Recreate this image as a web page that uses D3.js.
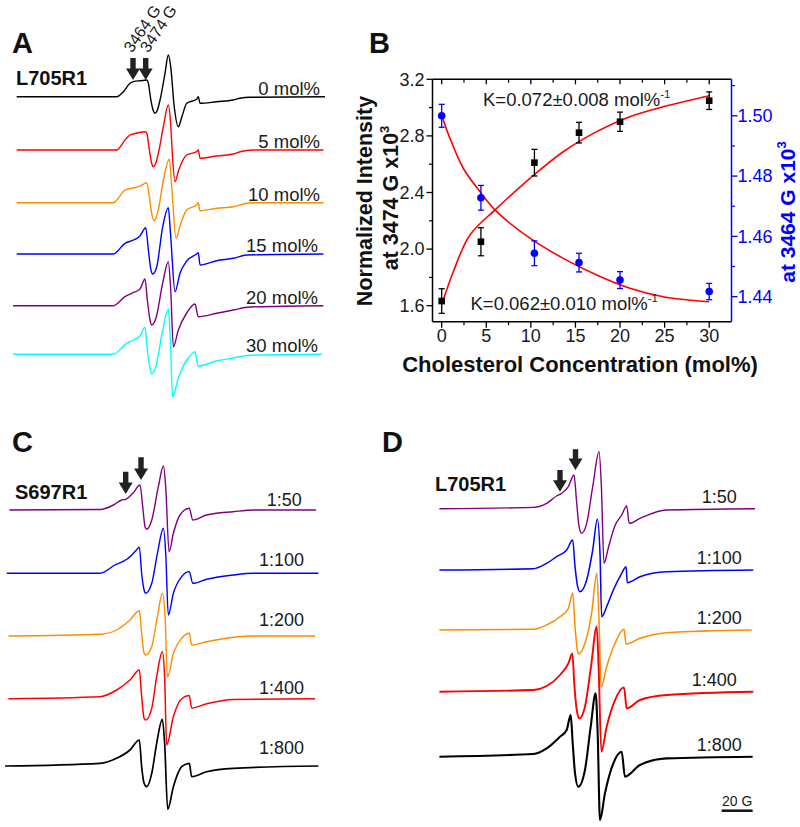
<!DOCTYPE html>
<html><head><meta charset="utf-8">
<script src="https://cdn.jsdelivr.net/npm/d3@7"></script>
<style>body{margin:0;background:#fff} svg{display:block} text{font-family:'Liberation Sans',Arial,Helvetica,sans-serif}</style>
</head><body>
<svg id="c" width="800" height="827"></svg>
<script>
// ================= DATA =================
// Panel B
const concB   = [0, 4.4, 10.4, 15.4, 20, 30];
const int3474 = [1.633, 2.052, 2.611, 2.823, 2.900, 3.049];
const err3474 = [0.087, 0.099, 0.094, 0.073, 0.068, 0.062];
const int3464 = [1.500, 1.4728, 1.4544, 1.4513, 1.4455, 1.4417];
const err3464 = [0.0038, 0.0041, 0.0041, 0.0031, 0.0028, 0.0027];
const fit3474 = [[0,1.605],[1.3,1.84],[3.17,2.10],[6.17,2.288],[9.9,2.50],[13.63,2.688],[17.38,2.83],[21.1,2.936],[24.84,3.006],[30,3.084]];
const fit3464 = [[0,1.5002],[0.93,1.4925],[2.42,1.4826],[4.3,1.4748],[6.17,1.4682],[9.9,1.4594],[13.63,1.4527],[17.38,1.4472],[21.1,1.4428],[24.84,1.44],[30,1.4383]];
const xTicksB = [0,5,10,15,20,25,30];
const xMinorB = [2.5,7.5,12.5,17.5,22.5,27.5];
const yLTicks = [1.6,2.0,2.4,2.8,3.2];
const yLMinor = [1.8,2.2,2.6,3.0];
const yRTicks = [1.44,1.46,1.48,1.50];
const yRMinor = [1.45,1.47,1.49,1.51];
const fitLabels = ["K=0.072\u00b10.008 mol%", "K=0.062\u00b10.010 mol%"];

// Panel A spectra: [field (G), intensity (a.u.)]
const labelsA = ['0 mol%','5 mol%','10 mol%','15 mol%','20 mol%','30 mol%'];
const offsetsA = [0, -5.33, -10.6, -15.73, -20.9, -25.76];
const specA0 = [[3372.4,0],[3451.1,0],[3456.4,0.5],[3461.6,1.34],[3464.3,1.5],[3470,1.6],[3474.8,1.67],[3476.1,1.34],[3477.9,-0.2],[3479.5,-1.2],[3481.3,-1.66],[3483,-1.4],[3485.3,-0.33],[3489.2,2.34],[3491.8,4.17],[3493.7,3.0],[3496.3,-0.8],[3499.7,-3.0],[3502.5,-2.0],[3506.3,-0.66],[3514.1,-0.26],[3515.4,0],[3516.8,-0.66],[3529.9,-0.5],[3543,-0.33],[3548.3,-0.16],[3556.1,-0.06],[3615.2,0]];
const specA5 = [[3372.4,0],[3451.1,0],[3457.7,1.0],[3461.6,1.5],[3464.3,1.6],[3473.4,1.83],[3474.8,1.7],[3476.9,0],[3478.7,-1.33],[3480,-1.67],[3482,-1.3],[3484.5,0],[3488,2.4],[3491.8,4.5],[3493.7,2.5],[3494.8,0],[3497.1,-3.17],[3500,-2.0],[3506.3,-0.5],[3514.1,-0.17],[3515.4,0],[3516.8,-0.83],[3529.9,-0.6],[3543,-0.4],[3548.3,-0.17],[3558.8,0],[3613.9,0]];
const specA10 = [[3372.4,0],[3448.5,0],[3457.7,1.27],[3463,1.44],[3469.5,1.65],[3474.8,2.0],[3476.9,0.6],[3478.7,-1.06],[3480.5,-1.8],[3483.9,-0.73],[3487.9,2.27],[3492.6,4.34],[3494.5,1.6],[3497.9,-3.56],[3501,-2.33],[3506.3,-0.73],[3514.1,-0.2],[3515.4,0],[3516.8,-0.8],[3529.9,-0.56],[3543,-0.4],[3556.1,0],[3613.9,0]];
const specA15 = [[3372.4,0],[3448.5,0],[3457.7,1.07],[3463,1.33],[3469.5,1.8],[3474,2.63],[3476.1,0.4],[3477.9,-1.43],[3479.5,-2.0],[3482.6,-1.33],[3487.4,2.73],[3491.8,4.63],[3493.7,1.73],[3497.1,-3.77],[3501,-1.93],[3506.3,-0.7],[3514.1,0],[3515.4,0.13],[3516.8,-1.1],[3529.9,-0.67],[3543,-0.43],[3553.5,-0.1],[3613.9,0]];
const specA20 = [[3369.5,0],[3448.5,0],[3457.7,0.9],[3463,1.24],[3469.5,1.67],[3473.4,2.67],[3475.3,0.57],[3477.4,-1.43],[3478.7,-1.93],[3482.1,-1.23],[3487.4,2.27],[3491.8,4.4],[3493.7,1.57],[3495.8,-4.1],[3499.7,-2.43],[3506.3,-0.73],[3512.8,0.17],[3515.4,-1.1],[3529.9,-0.76],[3543,-0.43],[3556.1,-0.13],[3613.9,0]];
const specA30 = [[3369.5,0],[3448.5,0],[3459,1.1],[3464.3,1.43],[3469.5,1.83],[3473.4,2.7],[3475.3,0.43],[3477.4,-1.37],[3478.7,-1.97],[3482.1,-1.17],[3487.4,2.43],[3491.8,4.53],[3493.4,1.43],[3495.2,-4.24],[3499.7,-2.37],[3506.3,-0.57],[3511.5,0.16],[3512.8,0.26],[3515.4,-1.17],[3529.9,-0.67],[3543,-0.37],[3556.1,-0.1],[3612.6,0]];

// Panel C spectra (S697R1)
const labelsC = ['1:50','1:100','1:200','1:400','1:800'];
const offsetsC = [0, -6.33, -12.6, -18.87, -25.6];
const specC50 = [[3388.1,0],[3447.3,0.05],[3456,0.5],[3461.4,1.0],[3464,1.07],[3469,1.73],[3473.3,2.5],[3475.1,0.33],[3476.6,-1.67],[3477.7,-1.93],[3481,-1.0],[3485.3,2.33],[3488.6,4.4],[3490.1,2.33],[3492.3,-4.17],[3495.1,-2.33],[3499.4,-0.5],[3505.5,0.17],[3507.7,-1.0],[3516.8,-0.5],[3534.2,-0.17],[3547.3,0],[3588.1,0]];
const specC100 = [[3386.4,0],[3447.3,0],[3457,0.83],[3464.7,1.4],[3470.1,2.17],[3472.9,2.6],[3474.4,0],[3476,-1.67],[3477,-2.0],[3481,-1.0],[3484.7,2.0],[3488.6,4.5],[3490.1,2.0],[3491.8,-4.17],[3495.1,-2.0],[3500.5,-0.33],[3505.5,0.17],[3507.7,-1.0],[3516.8,-0.6],[3534.2,-0.17],[3547.3,0],[3589.7,0]];
const specC200 = [[3387.5,0],[3447.3,0.17],[3458.1,0.6],[3466.8,1.6],[3472.9,2.53],[3474.4,0.27],[3476,-1.73],[3477,-1.9],[3481,-1.07],[3484.7,1.93],[3487.9,4.27],[3489.7,1.93],[3491.2,-4.13],[3495.1,-1.73],[3500.5,-0.23],[3505.5,0.27],[3507,-0.9],[3516.8,-0.57],[3534.2,-0.13],[3547.3,0],[3587.5,0]];
const specC400 = [[3387.5,0],[3447.3,0.2],[3458.1,0.87],[3466.8,1.87],[3472.9,2.87],[3474.4,0.23],[3476,-1.97],[3477,-2.13],[3481,-0.97],[3484.2,2.2],[3487.9,4.7],[3489.4,2.2],[3490.7,-4.63],[3495.1,-1.8],[3500.5,0],[3505.5,0.33],[3507,-0.93],[3516.8,-0.5],[3534.2,-0.07],[3587.5,0]];
const specC800 = [[3385.3,0],[3447.3,0.27],[3458.1,0.77],[3466.8,1.6],[3472.9,2.6],[3474.4,-0.07],[3476,-1.73],[3477.7,-2.07],[3481,-0.73],[3484.2,2.27],[3487.9,4.67],[3489.4,2.27],[3491.4,-4.33],[3495.1,-2.07],[3500.5,-0.07],[3505.5,0.27],[3507,-1.07],[3516.8,-0.57],[3534.2,-0.23],[3589.7,0]];

// Panel D spectra (L705R1)
const labelsD = ['1:50','1:100','1:200','1:400','1:800'];
const offsetsD = [0, -6.13, -12.13, -18.3, -24.8];
const specD50 = [[3386.2,0],[3446.8,0.13],[3455.4,0.53],[3461.8,1.27],[3465.1,1.53],[3469.4,2.2],[3473,3.37],[3474.8,0.53],[3476.3,-1.8],[3478,-2.47],[3481.2,-1.47],[3485.1,2.2],[3489.2,5.7],[3490.7,2.2],[3492.4,-5.47],[3495.2,-3.9],[3499.5,-1.67],[3503.8,-0.63],[3507,0.27],[3508.7,-1.47],[3515.6,-0.97],[3532.8,-0.13],[3589.8,0]];
const specD100 = [[3386.2,0],[3446.8,0.13],[3455.4,0.67],[3461.8,1.33],[3468.3,2.0],[3472.2,3.0],[3473.7,0.33],[3475.4,-1.67],[3476.9,-2.17],[3481.2,-1.0],[3485.1,2.0],[3488.1,5.07],[3489.8,1.67],[3490.9,-4.67],[3494.1,-3.67],[3498.4,-2.0],[3503.8,-0.33],[3506.6,0.33],[3507.4,-1.27],[3515.6,-0.67],[3532.8,-0.17],[3588.7,0]];
const specD200 = [[3386.2,0],[3446.8,0.07],[3455.4,0.5],[3464,1.33],[3469.4,2.17],[3472.2,3.67],[3473.7,0.33],[3475.2,-2.0],[3475.8,-2.4],[3480.1,-1.33],[3484.4,1.67],[3487.7,5.67],[3489.2,1.0],[3490.5,-5.73],[3494.1,-3.67],[3499.5,-1.33],[3505.3,0.07],[3506.6,-1.4],[3515.6,-0.83],[3532.8,-0.27],[3587.7,0]];
const specD400 = [[3386.2,0],[3446.8,0.17],[3455.4,0.57],[3464,1.67],[3469.4,2.83],[3472,3.83],[3473.2,0.83],[3474.8,-1.83],[3476.5,-2.67],[3480.1,-1.5],[3484,2.5],[3487.7,6.5],[3488.9,2.5],[3490.7,-6.0],[3494.1,-3.5],[3499.5,-0.83],[3505.3,0.43],[3507,-1.67],[3515.6,-0.83],[3532.8,-0.33],[3588.7,0]];
const specD800 = [[3386.2,0],[3446.8,0.27],[3455.4,0.83],[3464,2.0],[3468.3,2.67],[3470.9,4.17],[3472.2,1.33],[3473.7,-1.67],[3475.8,-3.0],[3480.1,-1.33],[3483.8,3.0],[3487,6.33],[3488.3,2.33],[3489.8,-6.33],[3493,-3.67],[3498.4,-0.67],[3503.8,0.5],[3505.9,-2.0],[3515.6,-0.83],[3532.8,-0.17],[3588.3,0]];

const arrowFields = [3464, 3474];
const arrowTexts = ['3464 G', '3474 G'];
const scaleBarG = 20;

// ================= DRAW =================
const svg = d3.select('#c');

function panelLabel(t, x, y){
  svg.append('text').attr('x',x).attr('y',y).attr('font-size',29).attr('font-weight','bold').attr('fill','#111').text(t);
}
panelLabel('A',12,53); panelLabel('B',369,53); panelLabel('C',12,452); panelLabel('D',382,452);

const lineGen = (xs, ys, off) => d3.line().x(d=>xs(d[0])).y(d=>ys(d[1]+off)).curve(d3.curveMonotoneX);

function drawArrow(g, x, tipY, topY){
  const hw = 7, sw = 2.7, hh = 11.5;
  const p = d3.path();
  p.moveTo(x-sw, topY); p.lineTo(x+sw, topY); p.lineTo(x+sw, tipY-hh); p.lineTo(x+hw, tipY-hh);
  p.lineTo(x, tipY); p.lineTo(x-hw, tipY-hh); p.lineTo(x-sw, tipY-hh); p.closePath();
  g.append('path').attr('d', p.toString()).attr('fill','#222');
}

function drawSpectra(specs, offs, colors, xs, ys, widths){
  const g = svg.append('g');
  specs.forEach((s,i)=>{
    g.append('path').datum(s).attr('d', lineGen(xs,ys,offs[i])).attr('fill','none')
      .attr('stroke', colors[i]).attr('stroke-width', widths[i]).attr('stroke-linejoin','round');
  });
  return g;
}

// ---- Panel A ----
const xA = d3.scaleLinear().domain([3464, 3474]).range([133, 145.7]);
const yA = d3.scaleLinear().domain([0, -1]).range([96.7, 106.7]);
const colorsA = ['#000000','#ff0000','#ff8c00','#0000ff','#800080','#00ffff'];
const gA = drawSpectra([specA0,specA5,specA10,specA15,specA20,specA30], offsetsA, colorsA, xA, yA, [1.4,1.4,1.4,1.4,1.4,1.4]);
labelsA.forEach((t,i)=>{
  gA.append('text').attr('x', i<3?320:318).attr('y', yA(offsetsA[i]) - 2).attr('text-anchor','end')
    .attr('font-size',18.5).attr('fill','#1a1a1a').text(t);
});
gA.append('text').attr('x',16).attr('y',85).attr('font-size',20).attr('font-weight','bold').attr('fill','#111').text('L705R1');
arrowFields.forEach(f=>drawArrow(gA, xA(f), 80, 58));
const rotDx = [-1, 2.5];
arrowTexts.forEach((t,i)=>{
  const x = xA(arrowFields[i]) + rotDx[i], y = 53.5;
  gA.append('text').attr('transform',`translate(${x},${y}) rotate(-56)`).attr('font-size',16).attr('fill','#1a1a1a').text(t);
});

// ---- Panel B ----
const gB = svg.append('g');
const xB = d3.scaleLinear().domain([-1.03, 32.5]).range([432.5, 731.5]);
const yL = d3.scaleLinear().domain([1.487, 3.2]).range([321.7, 79.3]);
const yR = d3.scaleLinear().domain([1.4317, 1.5121]).range([321.7, 79.3]);
const BL = 432.5, BR = 731.5, BT = 79.3, BB = 321.7;

gB.append('path').datum(fit3474).attr('d', d3.line().x(d=>xB(d[0])).y(d=>yL(d[1])).curve(d3.curveCatmullRom))
  .attr('fill','none').attr('stroke','#ff0000').attr('stroke-width',1.6);
gB.append('path').datum(fit3464).attr('d', d3.line().x(d=>xB(d[0])).y(d=>yR(d[1])).curve(d3.curveCatmullRom))
  .attr('fill','none').attr('stroke','#ff0000').attr('stroke-width',1.6);

function errBars(vals, errs, ys, col){
  vals.forEach((v,i)=>{
    const x = xB(concB[i]);
    gB.append('line').attr('x1',x).attr('x2',x).attr('y1',ys(v-errs[i])).attr('y2',ys(v+errs[i])).attr('stroke',col).attr('stroke-width',1.3);
    [v-errs[i], v+errs[i]].forEach(e=>gB.append('line').attr('x1',x-3).attr('x2',x+3).attr('y1',ys(e)).attr('y2',ys(e)).attr('stroke',col).attr('stroke-width',1.3));
  });
}
errBars(int3474, err3474, yL, '#000');
errBars(int3464, err3464, yR, '#0000ff');
int3474.forEach((v,i)=>gB.append('rect').attr('x',xB(concB[i])-3.3).attr('y',yL(v)-3.3).attr('width',6.6).attr('height',6.6).attr('fill','#000'));
int3464.forEach((v,i)=>gB.append('circle').attr('cx',xB(concB[i])).attr('cy',yR(v)).attr('r',3.8).attr('fill','#0000ff'));

gB.append('line').attr('x1',BL).attr('x2',BR).attr('y1',BT).attr('y2',BT).attr('stroke','#000').attr('stroke-width',1.5);
gB.append('line').attr('x1',BL).attr('x2',BR).attr('y1',BB).attr('y2',BB).attr('stroke','#000').attr('stroke-width',1.5);
gB.append('line').attr('x1',BL).attr('x2',BL).attr('y1',BT).attr('y2',BB).attr('stroke','#000').attr('stroke-width',1.5);
gB.append('line').attr('x1',BR).attr('x2',BR).attr('y1',BT).attr('y2',BB).attr('stroke','#0000ff').attr('stroke-width',1.5);

xTicksB.forEach(t=>{
  const x = xB(t);
  gB.append('line').attr('x1',x).attr('x2',x).attr('y1',BB).attr('y2',BB+6).attr('stroke','#000').attr('stroke-width',1.3);
  gB.append('line').attr('x1',x).attr('x2',x).attr('y1',BT).attr('y2',BT+5).attr('stroke','#000').attr('stroke-width',1.3);
  gB.append('text').attr('x',x).attr('y',341.7).attr('text-anchor','middle').attr('font-size',18).attr('fill','#1a1a1a').text(t);
});
xMinorB.forEach(t=>{
  const x = xB(t);
  gB.append('line').attr('x1',x).attr('x2',x).attr('y1',BB).attr('y2',BB+3.5).attr('stroke','#000').attr('stroke-width',1.2);
  gB.append('line').attr('x1',x).attr('x2',x).attr('y1',BT).attr('y2',BT+3.5).attr('stroke','#000').attr('stroke-width',1.2);
});
yLTicks.forEach(t=>{
  const y = yL(t);
  gB.append('line').attr('x1',BL-6).attr('x2',BL).attr('y1',y).attr('y2',y).attr('stroke','#000').attr('stroke-width',1.3);
  gB.append('text').attr('x',BL-8).attr('y',y).attr('dy','0.35em').attr('text-anchor','end').attr('font-size',18).attr('fill','#1a1a1a').text(t.toFixed(1));
});
yLMinor.forEach(t=>{
  const y = yL(t);
  gB.append('line').attr('x1',BL-3.5).attr('x2',BL).attr('y1',y).attr('y2',y).attr('stroke','#000').attr('stroke-width',1.2);
});
yRTicks.forEach(t=>{
  const y = yR(t);
  gB.append('line').attr('x1',BR).attr('x2',BR+6).attr('y1',y).attr('y2',y).attr('stroke','#0000ff').attr('stroke-width',1.3);
  gB.append('text').attr('x',BR+6).attr('y',y).attr('dy','0.35em').attr('font-size',18).attr('fill','#0000ff').text(t.toFixed(2));
});
yRMinor.forEach(t=>{
  const y = yR(t);
  gB.append('line').attr('x1',BR).attr('x2',BR+3.5).attr('y1',y).attr('y2',y).attr('stroke','#0000ff').attr('stroke-width',1.2);
});

function supText(g, x, y, main, sup, size, col){
  const t = g.append('text').attr('x',x).attr('y',y).attr('font-size',size).attr('fill',col);
  t.append('tspan').text(main);
  t.append('tspan').attr('font-size',size*0.62).attr('dy',-size*0.42).text(sup);
  return t;
}
supText(gB, 483, 105.7, fitLabels[0], '-1', 18.5, '#1a1a1a');
supText(gB, 470.5, 310, fitLabels[1], '-1', 18.5, '#1a1a1a');

gB.append('text').attr('x',580).attr('y',371.7).attr('text-anchor','middle').attr('font-size',22).attr('font-weight','bold').attr('fill','#111').text('Cholesterol Concentration (mol%)');
gB.append('text').attr('transform','translate(372,201) rotate(-90)').attr('text-anchor','middle').attr('font-size',21.5).attr('font-weight','bold').attr('fill','#111').text('Normalized Intensity');
{
  const t = gB.append('text').attr('transform','translate(398,198) rotate(-90)').attr('text-anchor','middle').attr('font-size',21.5).attr('font-weight','bold').attr('fill','#111');
  t.append('tspan').text('at 3474 G x10');
  t.append('tspan').attr('font-size',13).attr('dy',-9).text('3');
}
{
  const t = gB.append('text').attr('transform','translate(795,212) rotate(-90)').attr('text-anchor','middle').attr('font-size',21).attr('font-weight','bold').attr('fill','#0000ff');
  t.append('tspan').text('at 3464 G x10');
  t.append('tspan').attr('font-size',13).attr('dy',-9).text('3');
}

// ---- Panel C ----
const xC = d3.scaleLinear().domain([3464, 3474]).range([125.7, 141.03]);
const yC = d3.scaleLinear().domain([0, -1]).range([510, 520]);
const colorsCD = ['#800080','#0000ff','#ff8c00','#ff0000','#000000'];
const gC = drawSpectra([specC50,specC100,specC200,specC400,specC800], offsetsC, colorsCD, xC, yC, [1.4,1.4,1.4,1.5,1.7]);
const liftC = [4, 7, 10, 4.5, 12.5];
const rightC = [301.7, 304, 304, 304, 304];
labelsC.forEach((t,i)=>gC.append('text').attr('x',rightC[i]).attr('y',yC(offsetsC[i])-liftC[i]).attr('text-anchor','end').attr('font-size',18).attr('fill','#1a1a1a').text(t));
gC.append('text').attr('x',15).attr('y',499).attr('font-size',20).attr('font-weight','bold').attr('fill','#111').text('S697R1');
drawArrow(gC, xC(arrowFields[0]), 494, 471.7);
drawArrow(gC, xC(arrowFields[1]), 480, 457.3);

// ---- Panel D ----
const xD = d3.scaleLinear().domain([3464, 3474]).range([560, 575.5]);
const yD = d3.scaleLinear().domain([0, -1]).range([508.7, 518.7]);
const gD = drawSpectra([specD50,specD100,specD200,specD400,specD800], offsetsD, colorsCD, xD, yD, [1.4,1.5,1.5,1.9,2.1]);
const rightD = [736.7, 741.7, 741.7, 736.7, 741.7];
labelsD.forEach((t,i)=>gD.append('text').attr('x',rightD[i]).attr('y',yD(offsetsD[i])-6).attr('text-anchor','end').attr('font-size',18).attr('fill','#1a1a1a').text(t));
gD.append('text').attr('x',435).attr('y',491).attr('font-size',20).attr('font-weight','bold').attr('fill','#111').text('L705R1');
drawArrow(gD, xD(arrowFields[0]), 491.7, 470);
drawArrow(gD, xD(arrowFields[1]), 470, 449.3);
const sb0 = 3568.3;
gD.append('line').attr('x1',xD(sb0)).attr('x2',xD(sb0+scaleBarG)).attr('y1',810.7).attr('y2',810.7).attr('stroke','#111').attr('stroke-width',2.5);
gD.append('text').attr('x',(xD(sb0)+xD(sb0+scaleBarG))/2).attr('y',806).attr('text-anchor','middle').attr('font-size',14).attr('fill','#1a1a1a').text(scaleBarG + ' G');
</script>
</body></html>
